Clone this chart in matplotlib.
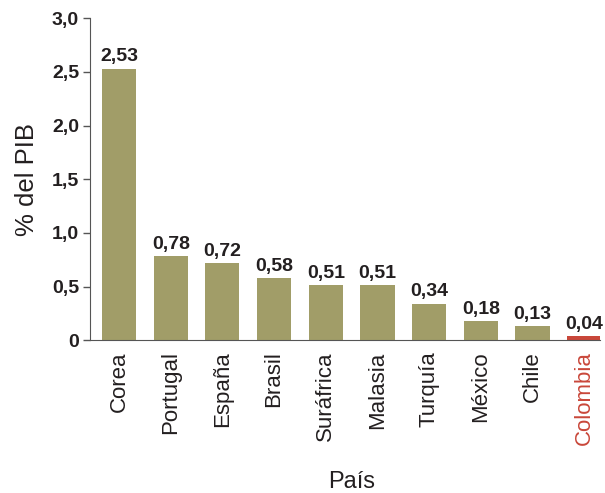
import matplotlib.pyplot as plt
import numpy as np

paises = ["Corea", "Portugal", "España", "Brasil", "Suráfrica", "Malasia",
          "Turquía", "México", "Chile", "Colombia"]
valores = [2.53, 0.78, 0.72, 0.58, 0.51, 0.51, 0.34, 0.18, 0.13, 0.04]
y_ticks = [0, 0.5, 1.0, 1.5, 2.0, 2.5, 3.0]
y_tick_labels = ["0", "0,5", "1,0", "1,5", "2,0", "2,5", "3,0"]

oliva = "#a19d68"
rojo = "#c9473a"
texto = "#231f20"

plt.rcParams['font.family'] = ['Liberation Sans', 'DejaVu Sans']

fig = plt.figure(figsize=(6.05, 4.93), dpi=100)
ax = fig.add_axes([0.149, 0.310, 0.843, 0.653])

x = np.arange(len(paises))
colores = [oliva] * (len(paises) - 1) + [rojo]
bars = ax.bar(x, valores, width=0.66, color=colores)

# etiquetas de valor encima de cada barra
for xi, v in zip(x, valores):
    ax.text(xi, v + 0.03, f"{v:.2f}".replace(".", ","), ha="center", va="bottom",
            fontsize=14, fontweight="bold", color=texto)

ax.set_xlim(-0.56, 9.31)
ax.set_ylim(0, 3.0)
ax.set_yticks(y_ticks)
ax.set_yticklabels(y_tick_labels, fontsize=14, fontweight="bold", color=texto)
ax.set_xticks(x)
ax.set_xticklabels(paises, rotation=90, fontsize=16, color=texto)
ax.get_xticklabels()[-1].set_color(rojo)
ax.tick_params(axis="x", length=0, pad=8)
ax.tick_params(axis="y", length=5, width=1, color="#555555", pad=3)

for s in ["top", "right"]:
    ax.spines[s].set_visible(False)
ax.spines["left"].set_color("#555555")
ax.spines["bottom"].set_color("#555555")

ax.set_ylabel("% del PIB", fontsize=18.5, color=texto, va="center")
ax.yaxis.set_label_coords(-0.124, 0.5)
fig.text(0.582, 0.022, "País", ha="center", va="center", fontsize=17, color=texto)

fig.savefig("out.png", dpi=100)
